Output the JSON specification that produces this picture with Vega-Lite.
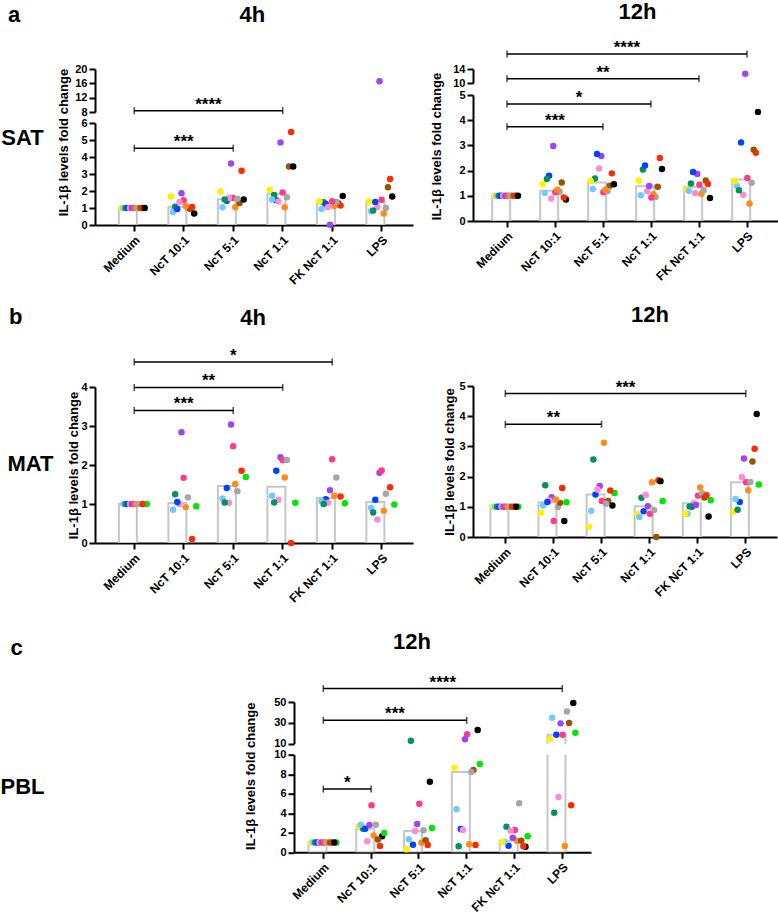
{
"$schema": "https://vega.github.io/schema/vega-lite/v6.json",
"padding": 0,
"background": "white",
"config": {
  "font": "Liberation Sans",
  "view": {"stroke": null},
  "axis": {"domainColor": "black", "domainWidth": 2, "tickColor": "black", "tickWidth": 2, "tickSize": 6, "labelFont": "Liberation Sans", "labelFontWeight": "bold", "labelFontSize": 11, "labelColor": "black", "titleFont": "Liberation Sans", "titleFontWeight": "bold", "titleFontSize": 13, "titleColor": "black", "grid": false, "labelPadding": 2, "labelOverlap": false, "labelFlush": false},
  "axisX": {"labelAngle": -45, "labelAlign": "right", "labelBaseline": "top", "labelFontSize": 12, "labelPadding": 3},
  "title": {"font": "Liberation Sans", "fontSize": 22, "fontWeight": "bold", "color": "black", "anchor": "middle"}
},
"datasets": {
  "sat4h": [
    {"c":"Medium","d":"D1","v":1},{"c":"Medium","d":"D2","v":1},{"c":"Medium","d":"D3","v":1},{"c":"Medium","d":"D4","v":1},{"c":"Medium","d":"D5","v":1},{"c":"Medium","d":"D6","v":1},{"c":"Medium","d":"D7","v":1},{"c":"Medium","d":"D8","v":1},{"c":"Medium","d":"D9","v":1},{"c":"Medium","d":"D10","v":1},{"c":"Medium","d":"D12","v":1},{"c":"Medium","d":"D13","v":1},
    {"c":"NcT 10:1","d":"D7","v":1.46},{"c":"NcT 10:1","d":"D3","v":1.08},{"c":"NcT 10:1","d":"D9","v":1.0},{"c":"NcT 10:1","d":"D2","v":0.77},{"c":"NcT 10:1","d":"D4","v":0.94},{"c":"NcT 10:1","d":"D5","v":1.36},{"c":"NcT 10:1","d":"D6","v":1.87},{"c":"NcT 10:1","d":"D1","v":1.67},{"c":"NcT 10:1","d":"D10","v":0.96},{"c":"NcT 10:1","d":"D8","v":1.12},{"c":"NcT 10:1","d":"D12","v":1.06},{"c":"NcT 10:1","d":"D13","v":0.67},
    {"c":"NcT 5:1","d":"D7","v":1.59},{"c":"NcT 5:1","d":"D4","v":1.42},{"c":"NcT 5:1","d":"D5","v":1.59},{"c":"NcT 5:1","d":"D8","v":1.04},{"c":"NcT 5:1","d":"D10","v":1.30},{"c":"NcT 5:1","d":"D6","v":3.62},{"c":"NcT 5:1","d":"D12","v":3.19},{"c":"NcT 5:1","d":"D2","v":1.04},{"c":"NcT 5:1","d":"D13","v":1.50},{"c":"NcT 5:1","d":"D3","v":1.50},{"c":"NcT 5:1","d":"D9","v":1.54},{"c":"NcT 5:1","d":"D1","v":1.97},
    {"c":"NcT 1:1","d":"D7","v":1.91},{"c":"NcT 1:1","d":"D4","v":1.46},{"c":"NcT 1:1","d":"D1","v":2.07},{"c":"NcT 1:1","d":"D10","v":3.44},{"c":"NcT 1:1","d":"D8","v":1.04},{"c":"NcT 1:1","d":"D9","v":1.63},{"c":"NcT 1:1","d":"D12","v":5.47},{"c":"NcT 1:1","d":"D6","v":4.86},{"c":"NcT 1:1","d":"D5","v":1.38},{"c":"NcT 1:1","d":"D3","v":1.77},{"c":"NcT 1:1","d":"D13","v":3.44},{"c":"NcT 1:1","d":"D2","v":1.50},
    {"c":"FK NcT 1:1","d":"D10","v":1.28},{"c":"FK NcT 1:1","d":"D3","v":1.34},{"c":"FK NcT 1:1","d":"D13","v":1.71},{"c":"FK NcT 1:1","d":"D4","v":1.24},{"c":"FK NcT 1:1","d":"D5","v":1.06},{"c":"FK NcT 1:1","d":"D8","v":1.12},{"c":"FK NcT 1:1","d":"D6","v":0.02},{"c":"FK NcT 1:1","d":"D2","v":0.94},{"c":"FK NcT 1:1","d":"D1","v":1.40},{"c":"FK NcT 1:1","d":"D12","v":1.14},{"c":"FK NcT 1:1","d":"D9","v":1.36},{"c":"FK NcT 1:1","d":"D7","v":1.40},
    {"c":"LPS","d":"D2","v":0.81},{"c":"LPS","d":"D5","v":1.06},{"c":"LPS","d":"D7","v":1.48},{"c":"LPS","d":"D6","v":16.56},{"c":"LPS","d":"D12","v":2.70},{"c":"LPS","d":"D10","v":2.22},{"c":"LPS","d":"D4","v":1.36},{"c":"LPS","d":"D3","v":0.85},{"c":"LPS","d":"D13","v":1.67},{"c":"LPS","d":"D9","v":1.00},{"c":"LPS","d":"D1","v":1.38},{"c":"LPS","d":"D8","v":0.67}
  ],
  "sat12h": [
    {"c":"Medium","d":"D1","v":1},{"c":"Medium","d":"D2","v":1},{"c":"Medium","d":"D3","v":1},{"c":"Medium","d":"D4","v":1},{"c":"Medium","d":"D5","v":1},{"c":"Medium","d":"D6","v":1},{"c":"Medium","d":"D7","v":1},{"c":"Medium","d":"D8","v":1},{"c":"Medium","d":"D9","v":1},{"c":"Medium","d":"D10","v":1},{"c":"Medium","d":"D12","v":1},{"c":"Medium","d":"D13","v":1},
    {"c":"NcT 10:1","d":"D4","v":1.80},{"c":"NcT 10:1","d":"D1","v":1.46},{"c":"NcT 10:1","d":"D2","v":1.11},{"c":"NcT 10:1","d":"D13","v":0.85},{"c":"NcT 10:1","d":"D3","v":1.67},{"c":"NcT 10:1","d":"D6","v":2.98},{"c":"NcT 10:1","d":"D9","v":1.16},{"c":"NcT 10:1","d":"D7","v":1.14},{"c":"NcT 10:1","d":"D5","v":0.89},{"c":"NcT 10:1","d":"D10","v":1.53},{"c":"NcT 10:1","d":"D8","v":1.24},{"c":"NcT 10:1","d":"D12","v":0.93},
    {"c":"NcT 5:1","d":"D3","v":1.69},{"c":"NcT 5:1","d":"D10","v":1.40},{"c":"NcT 5:1","d":"D7","v":1.14},{"c":"NcT 5:1","d":"D6","v":2.58},{"c":"NcT 5:1","d":"D5","v":2.08},{"c":"NcT 5:1","d":"D2","v":1.27},{"c":"NcT 5:1","d":"D4","v":2.66},{"c":"NcT 5:1","d":"D13","v":1.46},{"c":"NcT 5:1","d":"D9","v":1.19},{"c":"NcT 5:1","d":"D12","v":1.89},{"c":"NcT 5:1","d":"D1","v":1.59},{"c":"NcT 5:1","d":"D8","v":1.24},
    {"c":"NcT 1:1","d":"D9","v":0.95},{"c":"NcT 1:1","d":"D1","v":1.61},{"c":"NcT 1:1","d":"D5","v":1.18},{"c":"NcT 1:1","d":"D3","v":2.04},{"c":"NcT 1:1","d":"D13","v":2.06},{"c":"NcT 1:1","d":"D12","v":2.50},{"c":"NcT 1:1","d":"D6","v":1.39},{"c":"NcT 1:1","d":"D2","v":1.02},{"c":"NcT 1:1","d":"D4","v":2.20},{"c":"NcT 1:1","d":"D10","v":1.36},{"c":"NcT 1:1","d":"D8","v":1.06},{"c":"NcT 1:1","d":"D7","v":0.93},
    {"c":"FK NcT 1:1","d":"D10","v":1.61},{"c":"FK NcT 1:1","d":"D1","v":1.27},{"c":"FK NcT 1:1","d":"D13","v":0.91},{"c":"FK NcT 1:1","d":"D3","v":1.49},{"c":"FK NcT 1:1","d":"D2","v":1.20},{"c":"FK NcT 1:1","d":"D6","v":1.87},{"c":"FK NcT 1:1","d":"D5","v":1.10},{"c":"FK NcT 1:1","d":"D7","v":1.44},{"c":"FK NcT 1:1","d":"D8","v":1.08},{"c":"FK NcT 1:1","d":"D4","v":1.94},{"c":"FK NcT 1:1","d":"D12","v":1.47},{"c":"FK NcT 1:1","d":"D9","v":1.22},
    {"c":"LPS","d":"D6","v":12.67},{"c":"LPS","d":"D13","v":4.33},{"c":"LPS","d":"D4","v":3.12},{"c":"LPS","d":"D12","v":2.71},{"c":"LPS","d":"D7","v":1.71},{"c":"LPS","d":"D2","v":1.40},{"c":"LPS","d":"D9","v":1.52},{"c":"LPS","d":"D5","v":1.04},{"c":"LPS","d":"D8","v":0.69},{"c":"LPS","d":"D10","v":2.83},{"c":"LPS","d":"D1","v":1.59},{"c":"LPS","d":"D3","v":1.22}
  ],
  "mat4h": [
    {"c":"Medium","d":"D2","v":1},{"c":"Medium","d":"D3","v":1},{"c":"Medium","d":"D4","v":1},{"c":"Medium","d":"D5","v":1},{"c":"Medium","d":"D6","v":1},{"c":"Medium","d":"D7","v":1},{"c":"Medium","d":"D8","v":1},{"c":"Medium","d":"D9","v":1},{"c":"Medium","d":"D11","v":1},{"c":"Medium","d":"D12","v":1},
    {"c":"NcT 10:1","d":"D5","v":1.0},{"c":"NcT 10:1","d":"D8","v":0.92},{"c":"NcT 10:1","d":"D9","v":1.17},{"c":"NcT 10:1","d":"D6","v":2.84},{"c":"NcT 10:1","d":"D7","v":1.67},{"c":"NcT 10:1","d":"D12","v":0.10},{"c":"NcT 10:1","d":"D3","v":1.25},{"c":"NcT 10:1","d":"D11","v":0.94},{"c":"NcT 10:1","d":"D4","v":1.05},{"c":"NcT 10:1","d":"D2","v":0.85},
    {"c":"NcT 5:1","d":"D5","v":1.03},{"c":"NcT 5:1","d":"D12","v":1.85},{"c":"NcT 5:1","d":"D4","v":1.41},{"c":"NcT 5:1","d":"D11","v":1.69},{"c":"NcT 5:1","d":"D6","v":3.04},{"c":"NcT 5:1","d":"D7","v":2.48},{"c":"NcT 5:1","d":"D9","v":1.33},{"c":"NcT 5:1","d":"D2","v":1.14},{"c":"NcT 5:1","d":"D8","v":1.51},{"c":"NcT 5:1","d":"D3","v":1.04},
    {"c":"NcT 1:1","d":"D6","v":2.20},{"c":"NcT 1:1","d":"D5","v":1.11},{"c":"NcT 1:1","d":"D7","v":2.13},{"c":"NcT 1:1","d":"D4","v":1.85},{"c":"NcT 1:1","d":"D8","v":1.68},{"c":"NcT 1:1","d":"D2","v":1.21},{"c":"NcT 1:1","d":"D11","v":1.03},{"c":"NcT 1:1","d":"D12","v":0.0},{"c":"NcT 1:1","d":"D9","v":2.13},{"c":"NcT 1:1","d":"D3","v":1.04},
    {"c":"FK NcT 1:1","d":"D11","v":1.02},{"c":"FK NcT 1:1","d":"D4","v":1.12},{"c":"FK NcT 1:1","d":"D7","v":2.15},{"c":"FK NcT 1:1","d":"D9","v":1.68},{"c":"FK NcT 1:1","d":"D12","v":1.19},{"c":"FK NcT 1:1","d":"D5","v":1.03},{"c":"FK NcT 1:1","d":"D6","v":1.35},{"c":"FK NcT 1:1","d":"D2","v":1.07},{"c":"FK NcT 1:1","d":"D8","v":1.21},{"c":"FK NcT 1:1","d":"D3","v":1.0},
    {"c":"LPS","d":"D2","v":0.90},{"c":"LPS","d":"D6","v":1.80},{"c":"LPS","d":"D9","v":1.26},{"c":"LPS","d":"D11","v":0.99},{"c":"LPS","d":"D3","v":0.78},{"c":"LPS","d":"D5","v":0.60},{"c":"LPS","d":"D7","v":1.86},{"c":"LPS","d":"D12","v":1.43},{"c":"LPS","d":"D4","v":1.11},{"c":"LPS","d":"D8","v":0.83}
  ],
  "mat12h": [
    {"c":"Medium","d":"D1","v":1},{"c":"Medium","d":"D2","v":1},{"c":"Medium","d":"D3","v":1},{"c":"Medium","d":"D4","v":1},{"c":"Medium","d":"D5","v":1},{"c":"Medium","d":"D6","v":1},{"c":"Medium","d":"D7","v":1},{"c":"Medium","d":"D8","v":1},{"c":"Medium","d":"D9","v":1},{"c":"Medium","d":"D10","v":1},{"c":"Medium","d":"D11","v":1},{"c":"Medium","d":"D12","v":1},{"c":"Medium","d":"D13","v":1},
    {"c":"NcT 10:1","d":"D6","v":1.32},{"c":"NcT 10:1","d":"D9","v":0.99},{"c":"NcT 10:1","d":"D5","v":1.21},{"c":"NcT 10:1","d":"D12","v":1.62},{"c":"NcT 10:1","d":"D10","v":1.13},{"c":"NcT 10:1","d":"D1","v":0.80},{"c":"NcT 10:1","d":"D13","v":0.53},{"c":"NcT 10:1","d":"D3","v":1.71},{"c":"NcT 10:1","d":"D11","v":1.15},{"c":"NcT 10:1","d":"D7","v":0.53},{"c":"NcT 10:1","d":"D8","v":1.24},{"c":"NcT 10:1","d":"D2","v":1.04},{"c":"NcT 10:1","d":"D4","v":1.16},
    {"c":"NcT 5:1","d":"D6","v":1.69},{"c":"NcT 5:1","d":"D11","v":1.46},{"c":"NcT 5:1","d":"D10","v":1.19},{"c":"NcT 5:1","d":"D8","v":3.12},{"c":"NcT 5:1","d":"D3","v":2.57},{"c":"NcT 5:1","d":"D4","v":1.41},{"c":"NcT 5:1","d":"D13","v":1.04},{"c":"NcT 5:1","d":"D1","v":0.34},{"c":"NcT 5:1","d":"D12","v":1.54},{"c":"NcT 5:1","d":"D7","v":1.19},{"c":"NcT 5:1","d":"D2","v":0.87},{"c":"NcT 5:1","d":"D5","v":1.57},{"c":"NcT 5:1","d":"D9","v":1.10},
    {"c":"NcT 1:1","d":"D3","v":1.30},{"c":"NcT 1:1","d":"D4","v":0.85},{"c":"NcT 1:1","d":"D12","v":1.88},{"c":"NcT 1:1","d":"D5","v":1.39},{"c":"NcT 1:1","d":"D6","v":1.02},{"c":"NcT 1:1","d":"D1","v":0.75},{"c":"NcT 1:1","d":"D8","v":1.81},{"c":"NcT 1:1","d":"D11","v":1.19},{"c":"NcT 1:1","d":"D7","v":0.77},{"c":"NcT 1:1","d":"D13","v":1.85},{"c":"NcT 1:1","d":"D9","v":0.89},{"c":"NcT 1:1","d":"D2","v":0.66},{"c":"NcT 1:1","d":"D10","v":0.0},
    {"c":"FK NcT 1:1","d":"D7","v":1.37},{"c":"FK NcT 1:1","d":"D5","v":1.12},{"c":"FK NcT 1:1","d":"D13","v":0.68},{"c":"FK NcT 1:1","d":"D9","v":1.45},{"c":"FK NcT 1:1","d":"D11","v":1.22},{"c":"FK NcT 1:1","d":"D4","v":1.0},{"c":"FK NcT 1:1","d":"D8","v":1.64},{"c":"FK NcT 1:1","d":"D10","v":1.31},{"c":"FK NcT 1:1","d":"D6","v":1.06},{"c":"FK NcT 1:1","d":"D2","v":0.77},{"c":"FK NcT 1:1","d":"D1","v":0.77},{"c":"FK NcT 1:1","d":"D12","v":1.38},{"c":"FK NcT 1:1","d":"D3","v":1.01},
    {"c":"LPS","d":"D5","v":1.98},{"c":"LPS","d":"D11","v":1.74},{"c":"LPS","d":"D1","v":0.84},{"c":"LPS","d":"D13","v":4.07},{"c":"LPS","d":"D12","v":2.92},{"c":"LPS","d":"D10","v":2.50},{"c":"LPS","d":"D7","v":1.81},{"c":"LPS","d":"D8","v":1.55},{"c":"LPS","d":"D4","v":1.16},{"c":"LPS","d":"D3","v":0.90},{"c":"LPS","d":"D6","v":2.60},{"c":"LPS","d":"D9","v":1.82},{"c":"LPS","d":"D2","v":1.26}
  ],
  "pbl": [
    {"c":"Medium","d":"D1","v":1},{"c":"Medium","d":"D2","v":1},{"c":"Medium","d":"D3","v":1},{"c":"Medium","d":"D4","v":1},{"c":"Medium","d":"D5","v":1},{"c":"Medium","d":"D6","v":1},{"c":"Medium","d":"D7","v":1},{"c":"Medium","d":"D8","v":1},{"c":"Medium","d":"D9","v":1},{"c":"Medium","d":"D10","v":1},{"c":"Medium","d":"D11","v":1},{"c":"Medium","d":"D12","v":1},{"c":"Medium","d":"D13","v":1},
    {"c":"NcT 10:1","d":"D1","v":2.70},{"c":"NcT 10:1","d":"D3","v":2.42},{"c":"NcT 10:1","d":"D13","v":1.64},{"c":"NcT 10:1","d":"D12","v":0.65},{"c":"NcT 10:1","d":"D9","v":2.83},{"c":"NcT 10:1","d":"D8","v":1.71},{"c":"NcT 10:1","d":"D5","v":1.13},{"c":"NcT 10:1","d":"D11","v":1.98},{"c":"NcT 10:1","d":"D2","v":2.83},{"c":"NcT 10:1","d":"D7","v":4.81},{"c":"NcT 10:1","d":"D4","v":2.42},{"c":"NcT 10:1","d":"D10","v":1.30},{"c":"NcT 10:1","d":"D6","v":2.80},
    {"c":"NcT 5:1","d":"D6","v":2.90},{"c":"NcT 5:1","d":"D5","v":2.18},{"c":"NcT 5:1","d":"D8","v":0.99},{"c":"NcT 5:1","d":"D1","v":0.31},{"c":"NcT 5:1","d":"D3","v":12.8},{"c":"NcT 5:1","d":"D13","v":7.24},{"c":"NcT 5:1","d":"D7","v":4.98},{"c":"NcT 5:1","d":"D9","v":2.25},{"c":"NcT 5:1","d":"D4","v":0.78},{"c":"NcT 5:1","d":"D11","v":2.49},{"c":"NcT 5:1","d":"D2","v":1.33},{"c":"NcT 5:1","d":"D12","v":0.75},{"c":"NcT 5:1","d":"D10","v":1.23},
    {"c":"NcT 1:1","d":"D7","v":19.0},{"c":"NcT 1:1","d":"D3","v":0.61},{"c":"NcT 1:1","d":"D10","v":8.43},{"c":"NcT 1:1","d":"D6","v":14.2},{"c":"NcT 1:1","d":"D11","v":9.04},{"c":"NcT 1:1","d":"D9","v":8.22},{"c":"NcT 1:1","d":"D2","v":4.40},{"c":"NcT 1:1","d":"D4","v":2.39},{"c":"NcT 1:1","d":"D8","v":0.82},{"c":"NcT 1:1","d":"D13","v":23.1},{"c":"NcT 1:1","d":"D1","v":8.67},{"c":"NcT 1:1","d":"D5","v":2.29},{"c":"NcT 1:1","d":"D12","v":0.75},
    {"c":"FK NcT 1:1","d":"D11","v":1.64},{"c":"FK NcT 1:1","d":"D4","v":0.68},{"c":"FK NcT 1:1","d":"D8","v":1.19},{"c":"FK NcT 1:1","d":"D7","v":2.29},{"c":"FK NcT 1:1","d":"D2","v":1.09},{"c":"FK NcT 1:1","d":"D3","v":2.63},{"c":"FK NcT 1:1","d":"D9","v":5.02},{"c":"FK NcT 1:1","d":"D10","v":1.19},{"c":"FK NcT 1:1","d":"D5","v":2.22},{"c":"FK NcT 1:1","d":"D6","v":1.50},{"c":"FK NcT 1:1","d":"D13","v":0.58},{"c":"FK NcT 1:1","d":"D1","v":1.09},{"c":"FK NcT 1:1","d":"D12","v":0.61},
    {"c":"LPS","d":"D13","v":49.0},{"c":"LPS","d":"D9","v":41.0},{"c":"LPS","d":"D2","v":35.0},{"c":"LPS","d":"D10","v":29.8},{"c":"LPS","d":"D6","v":29.5},{"c":"LPS","d":"D4","v":18.6},{"c":"LPS","d":"D7","v":18.6},{"c":"LPS","d":"D11","v":20.6},{"c":"LPS","d":"D1","v":14.5},{"c":"LPS","d":"D5","v":5.67},{"c":"LPS","d":"D12","v":4.81},{"c":"LPS","d":"D3","v":4.06},{"c":"LPS","d":"D8","v":0.65}
  ],
  "br": [
    {"p":"sat4h-up","a":0,"b":3,"m":1.5,"v":8.36,"s":"****"},
    {"p":"sat4h-lo","a":0,"b":2,"m":1,"v":4.51,"s":"***"},
    {"p":"sat12h-up","a":0,"b":5,"m":2.5,"v":18.3,"s":"****"},
    {"p":"sat12h-up","a":0,"b":4,"m":2,"v":11.23,"s":"**"},
    {"p":"sat12h-lo","a":0,"b":3,"m":1.5,"v":4.64,"s":"*"},
    {"p":"sat12h-lo","a":0,"b":2,"m":1,"v":3.74,"s":"***"},
    {"p":"mat4h","a":0,"b":4,"m":2,"v":4.64,"s":"*"},
    {"p":"mat4h","a":0,"b":3,"m":1.5,"v":3.99,"s":"**"},
    {"p":"mat4h","a":0,"b":2,"m":1,"v":3.40,"s":"***"},
    {"p":"mat12h","a":0,"b":5,"m":2.5,"v":4.75,"s":"***"},
    {"p":"mat12h","a":0,"b":2,"m":1,"v":3.73,"s":"**"},
    {"p":"pbl-up","a":0,"b":5,"m":2.5,"v":62.9,"s":"****"},
    {"p":"pbl-up","a":0,"b":3,"m":1.5,"v":32.4,"s":"***"},
    {"p":"pbl-lo","a":0,"b":1,"m":0.5,"v":6.48,"s":"*"}
  ]
},
"vconcat": [
 {"hconcat": [
  {"vconcat": [
    {"width": 43, "height": 138, "title": {"text": "a", "anchor": "start", "offset": 42, "dx": 7},
     "data": {"values": [{"t": "SAT"}]},
     "mark": {"type": "text", "font": "Liberation Sans", "fontSize": 22, "fontWeight": "bold", "color": "black"},
     "encoding": {"text": {"field": "t"}}},
    {"width": 43, "height": 40, "title": {"text": "b", "anchor": "start", "offset": 115, "dx": 8},
     "data": {"values": [{"t": "MAT"}]},
     "mark": {"type": "text", "font": "Liberation Sans", "fontSize": 22, "fontWeight": "bold", "color": "black", "dx": 8},
     "encoding": {"text": {"field": "t"}}}
  ], "spacing": 99},
  {"hconcat": [
   {"vconcat": [
    {"title": {"text": "4h", "offset": 36, "dx": 17}, "bounds": "flush", "spacing": 11, "vconcat": [
     {"width": 318, "height": 43,
      "encoding": {"y": {"field": "v", "type": "quantitative", "scale": {"domain": [8, 20], "nice": false, "zero": false}, "axis": {"values": [8, 12, 16, 20], "title": null}}},
      "layer": [
       {"encoding": {"x": {"field": "c", "type": "nominal", "sort": null, "scale": {"domain": ["Medium","NcT 10:1","NcT 5:1","NcT 1:1","FK NcT 1:1","LPS"], "paddingInner": 0.38, "paddingOuter": 0.402, "align": 0.6, "round": false}, "axis": null}},
        "layer": [
         {"data": {"name": "sat4h"}, "transform": [{"aggregate": [{"op": "median", "field": "v", "as": "v"}], "groupby": ["c"]}], "mark": {"type": "bar", "fill": "white", "stroke": "#c6c6c6", "strokeWidth": 2, "clip": true}},
         {"data": {"name": "sat4h"}, "transform": [{"filter": "datum.v > 7"}], "mark": {"type": "circle", "size": 42, "opacity": 1},
          "encoding": {"xOffset": {"field": "d", "type": "nominal", "scale": {"domain": ["D1","D2","D3","D4","D5","D6","D7","D8","D9","D10","D12","D13"], "range": [1.5, 29]}},
                       "color": {"field": "d", "type": "nominal", "scale": {"domain": ["D1","D2","D3","D4","D5","D6","D7","D8","D9","D10","D11","D12","D13"], "range": ["#FFF200","#73C9FF","#00935E","#0043FF","#FF8CD2","#9B45F5","#FF3A8C","#FF8C1A","#A6A6A6","#9C5200","#00E600","#FF2A00","#000000"]}, "legend": null}}}
        ]},
       {"data": {"name": "br"}, "transform": [{"filter": "datum.p == 'sat4h-up'"}],
        "encoding": {"x": {"field": "a", "type": "quantitative", "scale": {"domain": [-0.793, 5.632], "nice": false, "zero": false}, "axis": null}},
        "layer": [
         {"mark": {"type": "rule", "color": "black", "strokeWidth": 1.5}, "encoding": {"x2": {"field": "b"}}},
         {"mark": {"type": "tick", "orient": "vertical", "color": "black", "size": 7, "thickness": 1.5}},
         {"mark": {"type": "tick", "orient": "vertical", "color": "black", "size": 7, "thickness": 1.5}, "encoding": {"x": {"field": "b", "type": "quantitative", "scale": {"domain": [-0.793, 5.632], "nice": false, "zero": false}, "axis": null}}},
         {"mark": {"type": "text", "font": "Liberation Sans", "fontSize": 17, "fontWeight": "bold", "baseline": "alphabetic", "dy": -1, "color": "black"}, "encoding": {"x": {"field": "m", "type": "quantitative", "scale": {"domain": [-0.793, 5.632], "nice": false, "zero": false}, "axis": null}, "text": {"field": "s"}}}
        ]}
      ],
      "resolve": {"scale": {"x": "independent"}}},
     {"width": 318, "height": 102,
      "encoding": {"y": {"field": "v", "type": "quantitative", "scale": {"domain": [0, 6], "nice": false, "zero": false}, "axis": {"values": [0, 1, 2, 3, 4, 5, 6], "title": "IL-1β levels fold change", "titleY": 19, "titlePadding": 10}}},
      "layer": [
       {"encoding": {"x": {"field": "c", "type": "nominal", "sort": null, "scale": {"domain": ["Medium","NcT 10:1","NcT 5:1","NcT 1:1","FK NcT 1:1","LPS"], "paddingInner": 0.38, "paddingOuter": 0.402, "align": 0.6, "round": false}, "axis": {"title": null}}},
        "layer": [
         {"data": {"name": "sat4h"}, "transform": [{"aggregate": [{"op": "median", "field": "v", "as": "v"}], "groupby": ["c"]}], "mark": {"type": "bar", "fill": "white", "stroke": "#c6c6c6", "strokeWidth": 2, "clip": true}},
         {"data": {"name": "sat4h"}, "transform": [{"filter": "datum.v <= 7"}], "mark": {"type": "circle", "size": 42, "opacity": 1},
          "encoding": {"xOffset": {"field": "d", "type": "nominal", "scale": {"domain": ["D1","D2","D3","D4","D5","D6","D7","D8","D9","D10","D12","D13"], "range": [1.5, 29]}},
                       "color": {"field": "d", "type": "nominal", "scale": {"domain": ["D1","D2","D3","D4","D5","D6","D7","D8","D9","D10","D11","D12","D13"], "range": ["#FFF200","#73C9FF","#00935E","#0043FF","#FF8CD2","#9B45F5","#FF3A8C","#FF8C1A","#A6A6A6","#9C5200","#00E600","#FF2A00","#000000"]}, "legend": null}}}
        ]},
       {"data": {"name": "br"}, "transform": [{"filter": "datum.p == 'sat4h-lo'"}],
        "encoding": {"x": {"field": "a", "type": "quantitative", "scale": {"domain": [-0.793, 5.632], "nice": false, "zero": false}, "axis": null}},
        "layer": [
         {"mark": {"type": "rule", "color": "black", "strokeWidth": 1.5}, "encoding": {"x2": {"field": "b"}}},
         {"mark": {"type": "tick", "orient": "vertical", "color": "black", "size": 7, "thickness": 1.5}},
         {"mark": {"type": "tick", "orient": "vertical", "color": "black", "size": 7, "thickness": 1.5}, "encoding": {"x": {"field": "b", "type": "quantitative", "scale": {"domain": [-0.793, 5.632], "nice": false, "zero": false}, "axis": null}}},
         {"mark": {"type": "text", "font": "Liberation Sans", "fontSize": 17, "fontWeight": "bold", "baseline": "alphabetic", "dy": -1, "color": "black"}, "encoding": {"x": {"field": "m", "type": "quantitative", "scale": {"domain": [-0.793, 5.632], "nice": false, "zero": false}, "axis": null}, "text": {"field": "s"}}}
        ]}
      ],
      "resolve": {"scale": {"x": "independent"}}}
    ]},
    {"width": 318, "height": 156, "title": {"text": "4h", "offset": 17.5, "dx": -1},
     "encoding": {"y": {"field": "v", "type": "quantitative", "scale": {"domain": [0, 4], "nice": false, "zero": false}, "axis": {"values": [0, 1, 2, 3, 4], "title": "IL-1β levels fold change", "titlePadding": 0}}},
     "layer": [
      {"encoding": {"x": {"field": "c", "type": "nominal", "sort": null, "scale": {"domain": ["Medium","NcT 10:1","NcT 5:1","NcT 1:1","FK NcT 1:1","LPS"], "paddingInner": 0.38, "paddingOuter": 0.402, "align": 0.6, "round": false}, "axis": {"title": null}}},
       "layer": [
        {"data": {"name": "mat4h"}, "transform": [{"aggregate": [{"op": "median", "field": "v", "as": "v"}], "groupby": ["c"]}], "mark": {"type": "bar", "fill": "white", "stroke": "#c6c6c6", "strokeWidth": 2, "clip": true}},
        {"data": {"name": "mat4h"}, "mark": {"type": "circle", "size": 42, "opacity": 1},
         "encoding": {"xOffset": {"field": "d", "type": "nominal", "scale": {"domain": ["D2","D3","D4","D5","D6","D7","D8","D9","D11","D12"], "range": [1.5, 29]}},
                      "color": {"field": "d", "type": "nominal", "scale": {"domain": ["D1","D2","D3","D4","D5","D6","D7","D8","D9","D10","D11","D12","D13"], "range": ["#FFF200","#73C9FF","#00935E","#0043FF","#FF8CD2","#9B45F5","#FF3A8C","#FF8C1A","#A6A6A6","#9C5200","#00E600","#FF2A00","#000000"]}, "legend": null}}}
       ]},
      {"data": {"name": "br"}, "transform": [{"filter": "datum.p == 'mat4h'"}],
       "encoding": {"x": {"field": "a", "type": "quantitative", "scale": {"domain": [-0.793, 5.632], "nice": false, "zero": false}, "axis": null}},
       "layer": [
        {"mark": {"type": "rule", "color": "black", "strokeWidth": 1.5}, "encoding": {"x2": {"field": "b"}}},
        {"mark": {"type": "tick", "orient": "vertical", "color": "black", "size": 7, "thickness": 1.5}},
        {"mark": {"type": "tick", "orient": "vertical", "color": "black", "size": 7, "thickness": 1.5}, "encoding": {"x": {"field": "b", "type": "quantitative", "scale": {"domain": [-0.793, 5.632], "nice": false, "zero": false}, "axis": null}}},
        {"mark": {"type": "text", "font": "Liberation Sans", "fontSize": 17, "fontWeight": "bold", "baseline": "alphabetic", "dy": -1, "color": "black"}, "encoding": {"x": {"field": "m", "type": "quantitative", "scale": {"domain": [-0.793, 5.632], "nice": false, "zero": false}, "axis": null}, "text": {"field": "s"}}}
       ]}
     ],
     "resolve": {"scale": {"x": "independent"}}}
   ], "spacing": 19},
   {"vconcat": [
    {"title": {"text": "12h", "offset": 15, "dx": 33}, "bounds": "flush", "spacing": 12, "vconcat": [
     {"width": 305, "height": 14,
      "encoding": {"y": {"field": "v", "type": "quantitative", "scale": {"domain": [10, 14], "nice": false, "zero": false}, "axis": {"values": [10, 14], "title": null}}},
      "layer": [
       {"encoding": {"x": {"field": "c", "type": "nominal", "sort": null, "scale": {"domain": ["Medium","NcT 10:1","NcT 5:1","NcT 1:1","FK NcT 1:1","LPS"], "paddingInner": 0.38, "paddingOuter": 0.367, "align": 0.543, "round": false}, "axis": null}},
        "layer": [
         {"data": {"name": "sat12h"}, "transform": [{"aggregate": [{"op": "median", "field": "v", "as": "v"}], "groupby": ["c"]}], "mark": {"type": "bar", "fill": "white", "stroke": "#c6c6c6", "strokeWidth": 2, "clip": true}},
         {"data": {"name": "sat12h"}, "transform": [{"filter": "datum.v > 7"}], "mark": {"type": "circle", "size": 42, "opacity": 1},
          "encoding": {"xOffset": {"field": "d", "type": "nominal", "scale": {"domain": ["D1","D2","D3","D4","D5","D6","D7","D8","D9","D10","D12","D13"], "range": [1.5, 29]}},
                       "color": {"field": "d", "type": "nominal", "scale": {"domain": ["D1","D2","D3","D4","D5","D6","D7","D8","D9","D10","D11","D12","D13"], "range": ["#FFF200","#73C9FF","#00935E","#0043FF","#FF8CD2","#9B45F5","#FF3A8C","#FF8C1A","#A6A6A6","#9C5200","#00E600","#FF2A00","#000000"]}, "legend": null}}}
        ]},
       {"data": {"name": "br"}, "transform": [{"filter": "datum.p == 'sat12h-up'"}],
        "encoding": {"x": {"field": "a", "type": "quantitative", "scale": {"domain": [-0.708, 5.646], "nice": false, "zero": false}, "axis": null}},
        "layer": [
         {"mark": {"type": "rule", "color": "black", "strokeWidth": 1.5}, "encoding": {"x2": {"field": "b"}}},
         {"mark": {"type": "tick", "orient": "vertical", "color": "black", "size": 7, "thickness": 1.5}},
         {"mark": {"type": "tick", "orient": "vertical", "color": "black", "size": 7, "thickness": 1.5}, "encoding": {"x": {"field": "b", "type": "quantitative", "scale": {"domain": [-0.708, 5.646], "nice": false, "zero": false}, "axis": null}}},
         {"mark": {"type": "text", "font": "Liberation Sans", "fontSize": 17, "fontWeight": "bold", "baseline": "alphabetic", "dy": -1, "color": "black"}, "encoding": {"x": {"field": "m", "type": "quantitative", "scale": {"domain": [-0.708, 5.646], "nice": false, "zero": false}, "axis": null}, "text": {"field": "s"}}}
        ]}
      ],
      "resolve": {"scale": {"x": "independent"}}},
     {"width": 305, "height": 126,
      "encoding": {"y": {"field": "v", "type": "quantitative", "scale": {"domain": [0, 5], "nice": false, "zero": false}, "axis": {"values": [0, 1, 2, 3, 4, 5], "title": "IL-1β levels fold change", "titleY": 51, "titlePadding": 15}}},
      "layer": [
       {"encoding": {"x": {"field": "c", "type": "nominal", "sort": null, "scale": {"domain": ["Medium","NcT 10:1","NcT 5:1","NcT 1:1","FK NcT 1:1","LPS"], "paddingInner": 0.38, "paddingOuter": 0.367, "align": 0.543, "round": false}, "axis": {"title": null}}},
        "layer": [
         {"data": {"name": "sat12h"}, "transform": [{"aggregate": [{"op": "median", "field": "v", "as": "v"}], "groupby": ["c"]}], "mark": {"type": "bar", "fill": "white", "stroke": "#c6c6c6", "strokeWidth": 2, "clip": true}},
         {"data": {"name": "sat12h"}, "transform": [{"filter": "datum.v <= 7"}], "mark": {"type": "circle", "size": 42, "opacity": 1},
          "encoding": {"xOffset": {"field": "d", "type": "nominal", "scale": {"domain": ["D1","D2","D3","D4","D5","D6","D7","D8","D9","D10","D12","D13"], "range": [1.5, 29]}},
                       "color": {"field": "d", "type": "nominal", "scale": {"domain": ["D1","D2","D3","D4","D5","D6","D7","D8","D9","D10","D11","D12","D13"], "range": ["#FFF200","#73C9FF","#00935E","#0043FF","#FF8CD2","#9B45F5","#FF3A8C","#FF8C1A","#A6A6A6","#9C5200","#00E600","#FF2A00","#000000"]}, "legend": null}}}
        ]},
       {"data": {"name": "br"}, "transform": [{"filter": "datum.p == 'sat12h-lo'"}],
        "encoding": {"x": {"field": "a", "type": "quantitative", "scale": {"domain": [-0.708, 5.646], "nice": false, "zero": false}, "axis": null}},
        "layer": [
         {"mark": {"type": "rule", "color": "black", "strokeWidth": 1.5}, "encoding": {"x2": {"field": "b"}}},
         {"mark": {"type": "tick", "orient": "vertical", "color": "black", "size": 7, "thickness": 1.5}},
         {"mark": {"type": "tick", "orient": "vertical", "color": "black", "size": 7, "thickness": 1.5}, "encoding": {"x": {"field": "b", "type": "quantitative", "scale": {"domain": [-0.708, 5.646], "nice": false, "zero": false}, "axis": null}}},
         {"mark": {"type": "text", "font": "Liberation Sans", "fontSize": 17, "fontWeight": "bold", "baseline": "alphabetic", "dy": -1, "color": "black"}, "encoding": {"x": {"field": "m", "type": "quantitative", "scale": {"domain": [-0.708, 5.646], "nice": false, "zero": false}, "axis": null}, "text": {"field": "s"}}}
        ]}
      ],
      "resolve": {"scale": {"x": "independent"}}}
    ]},
    {"width": 304, "height": 151, "title": {"text": "12h", "offset": 52, "dx": 25},
     "encoding": {"y": {"field": "v", "type": "quantitative", "scale": {"domain": [0, 5], "nice": false, "zero": false}, "axis": {"values": [0, 1, 2, 3, 4, 5], "title": "IL-1β levels fold change", "titlePadding": 2}}},
     "layer": [
      {"encoding": {"x": {"field": "c", "type": "nominal", "sort": null, "scale": {"domain": ["Medium","NcT 10:1","NcT 5:1","NcT 1:1","FK NcT 1:1","LPS"], "paddingInner": 0.38, "paddingOuter": 0.35, "align": 0.516, "round": false}, "axis": {"title": null}}},
       "layer": [
        {"data": {"name": "mat12h"}, "transform": [{"aggregate": [{"op": "median", "field": "v", "as": "v"}], "groupby": ["c"]}], "mark": {"type": "bar", "fill": "white", "stroke": "#c6c6c6", "strokeWidth": 2, "clip": true}},
        {"data": {"name": "mat12h"}, "mark": {"type": "circle", "size": 42, "opacity": 1},
         "encoding": {"xOffset": {"field": "d", "type": "nominal", "scale": {"domain": ["D1","D2","D3","D4","D5","D6","D7","D8","D9","D10","D11","D12","D13"], "range": [1.5, 29]}},
                      "color": {"field": "d", "type": "nominal", "scale": {"domain": ["D1","D2","D3","D4","D5","D6","D7","D8","D9","D10","D11","D12","D13"], "range": ["#FFF200","#73C9FF","#00935E","#0043FF","#FF8CD2","#9B45F5","#FF3A8C","#FF8C1A","#A6A6A6","#9C5200","#00E600","#FF2A00","#000000"]}, "legend": null}}}
       ]},
      {"data": {"name": "br"}, "transform": [{"filter": "datum.p == 'mat12h'"}],
       "encoding": {"x": {"field": "a", "type": "quantitative", "scale": {"domain": [-0.672, 5.649], "nice": false, "zero": false}, "axis": null}},
       "layer": [
        {"mark": {"type": "rule", "color": "black", "strokeWidth": 1.5}, "encoding": {"x2": {"field": "b"}}},
        {"mark": {"type": "tick", "orient": "vertical", "color": "black", "size": 7, "thickness": 1.5}},
        {"mark": {"type": "tick", "orient": "vertical", "color": "black", "size": 7, "thickness": 1.5}, "encoding": {"x": {"field": "b", "type": "quantitative", "scale": {"domain": [-0.672, 5.649], "nice": false, "zero": false}, "axis": null}}},
        {"mark": {"type": "text", "font": "Liberation Sans", "fontSize": 17, "fontWeight": "bold", "baseline": "alphabetic", "dy": -1, "color": "black"}, "encoding": {"x": {"field": "m", "type": "quantitative", "scale": {"domain": [-0.672, 5.649], "nice": false, "zero": false}, "axis": null}, "text": {"field": "s"}}}
       ]}
     ],
     "resolve": {"scale": {"x": "independent"}}}
   ], "spacing": 20}
  ], "spacing": 17}
 ], "spacing": 3},
 {"hconcat": [
  {"width": 43, "height": 169, "title": {"text": "c", "anchor": "start", "offset": 42, "dx": 10},
   "data": {"values": [{"t": "PBL"}]},
   "mark": {"type": "text", "font": "Liberation Sans", "fontSize": 22, "fontWeight": "bold", "color": "black"},
   "encoding": {"text": {"field": "t"}}},
  {"title": {"text": "12h", "offset": 20, "dx": -6}, "bounds": "flush", "spacing": 10.7, "vconcat": [
   {"width": 297, "height": 41.7,
    "encoding": {"y": {"field": "v", "type": "quantitative", "scale": {"domain": [10, 50], "nice": false, "zero": false}, "axis": {"values": [10, 30, 50], "title": null}}},
    "layer": [
     {"encoding": {"x": {"field": "c", "type": "nominal", "sort": null, "scale": {"domain": ["Medium","NcT 10:1","NcT 5:1","NcT 1:1","FK NcT 1:1","LPS"], "paddingInner": 0.38, "paddingOuter": 0.297, "align": 0.51, "round": false}, "axis": null}},
      "layer": [
       {"data": {"name": "pbl"}, "transform": [{"aggregate": [{"op": "median", "field": "v", "as": "v"}], "groupby": ["c"]}], "mark": {"type": "bar", "fill": "white", "stroke": "#c6c6c6", "strokeWidth": 2, "clip": true}},
       {"data": {"name": "pbl"}, "transform": [{"filter": "datum.v > 10"}], "mark": {"type": "circle", "size": 42, "opacity": 1},
        "encoding": {"xOffset": {"field": "d", "type": "nominal", "scale": {"domain": ["D1","D2","D3","D4","D5","D6","D7","D8","D9","D10","D11","D12","D13"], "range": [1.5, 29]}},
                     "color": {"field": "d", "type": "nominal", "scale": {"domain": ["D1","D2","D3","D4","D5","D6","D7","D8","D9","D10","D11","D12","D13"], "range": ["#FFF200","#73C9FF","#00935E","#0043FF","#FF8CD2","#9B45F5","#FF3A8C","#FF8C1A","#A6A6A6","#9C5200","#00E600","#FF2A00","#000000"]}, "legend": null}}}
      ]},
     {"data": {"name": "br"}, "transform": [{"filter": "datum.p == 'pbl-up'"}],
      "encoding": {"x": {"field": "a", "type": "quantitative", "scale": {"domain": [-0.613, 5.6], "nice": false, "zero": false}, "axis": null}},
      "layer": [
       {"mark": {"type": "rule", "color": "black", "strokeWidth": 1.5}, "encoding": {"x2": {"field": "b"}}},
       {"mark": {"type": "tick", "orient": "vertical", "color": "black", "size": 7, "thickness": 1.5}},
       {"mark": {"type": "tick", "orient": "vertical", "color": "black", "size": 7, "thickness": 1.5}, "encoding": {"x": {"field": "b", "type": "quantitative", "scale": {"domain": [-0.613, 5.6], "nice": false, "zero": false}, "axis": null}}},
       {"mark": {"type": "text", "font": "Liberation Sans", "fontSize": 17, "fontWeight": "bold", "baseline": "alphabetic", "dy": -1, "color": "black"}, "encoding": {"x": {"field": "m", "type": "quantitative", "scale": {"domain": [-0.613, 5.6], "nice": false, "zero": false}, "axis": null}, "text": {"field": "s"}}}
      ]}
    ],
    "resolve": {"scale": {"x": "independent"}}},
   {"width": 297, "height": 97.6,
    "encoding": {"y": {"field": "v", "type": "quantitative", "scale": {"domain": [0, 10], "nice": false, "zero": false}, "axis": {"values": [0, 2, 4, 6, 8, 10], "title": "IL-1β levels fold change", "titleY": 21, "titlePadding": 16}}},
    "layer": [
     {"encoding": {"x": {"field": "c", "type": "nominal", "sort": null, "scale": {"domain": ["Medium","NcT 10:1","NcT 5:1","NcT 1:1","FK NcT 1:1","LPS"], "paddingInner": 0.38, "paddingOuter": 0.297, "align": 0.51, "round": false}, "axis": {"title": null}}},
      "layer": [
       {"data": {"name": "pbl"}, "transform": [{"aggregate": [{"op": "median", "field": "v", "as": "v"}], "groupby": ["c"]}], "mark": {"type": "bar", "fill": "white", "stroke": "#c6c6c6", "strokeWidth": 2, "clip": true}},
       {"data": {"name": "pbl"}, "transform": [{"filter": "datum.v <= 10"}], "mark": {"type": "circle", "size": 42, "opacity": 1},
        "encoding": {"xOffset": {"field": "d", "type": "nominal", "scale": {"domain": ["D1","D2","D3","D4","D5","D6","D7","D8","D9","D10","D11","D12","D13"], "range": [1.5, 29]}},
                     "color": {"field": "d", "type": "nominal", "scale": {"domain": ["D1","D2","D3","D4","D5","D6","D7","D8","D9","D10","D11","D12","D13"], "range": ["#FFF200","#73C9FF","#00935E","#0043FF","#FF8CD2","#9B45F5","#FF3A8C","#FF8C1A","#A6A6A6","#9C5200","#00E600","#FF2A00","#000000"]}, "legend": null}}}
      ]},
     {"data": {"name": "br"}, "transform": [{"filter": "datum.p == 'pbl-lo'"}],
      "encoding": {"x": {"field": "a", "type": "quantitative", "scale": {"domain": [-0.613, 5.6], "nice": false, "zero": false}, "axis": null}},
      "layer": [
       {"mark": {"type": "rule", "color": "black", "strokeWidth": 1.5}, "encoding": {"x2": {"field": "b"}}},
       {"mark": {"type": "tick", "orient": "vertical", "color": "black", "size": 7, "thickness": 1.5}},
       {"mark": {"type": "tick", "orient": "vertical", "color": "black", "size": 7, "thickness": 1.5}, "encoding": {"x": {"field": "b", "type": "quantitative", "scale": {"domain": [-0.613, 5.6], "nice": false, "zero": false}, "axis": null}}},
       {"mark": {"type": "text", "font": "Liberation Sans", "fontSize": 17, "fontWeight": "bold", "baseline": "alphabetic", "dy": -1, "color": "black"}, "encoding": {"x": {"field": "m", "type": "quantitative", "scale": {"domain": [-0.613, 5.6], "nice": false, "zero": false}, "axis": null}, "text": {"field": "s"}}}
      ]}
    ],
    "resolve": {"scale": {"x": "independent"}}}
  ]}
 ], "spacing": 199}
],
"spacing": 25
}
